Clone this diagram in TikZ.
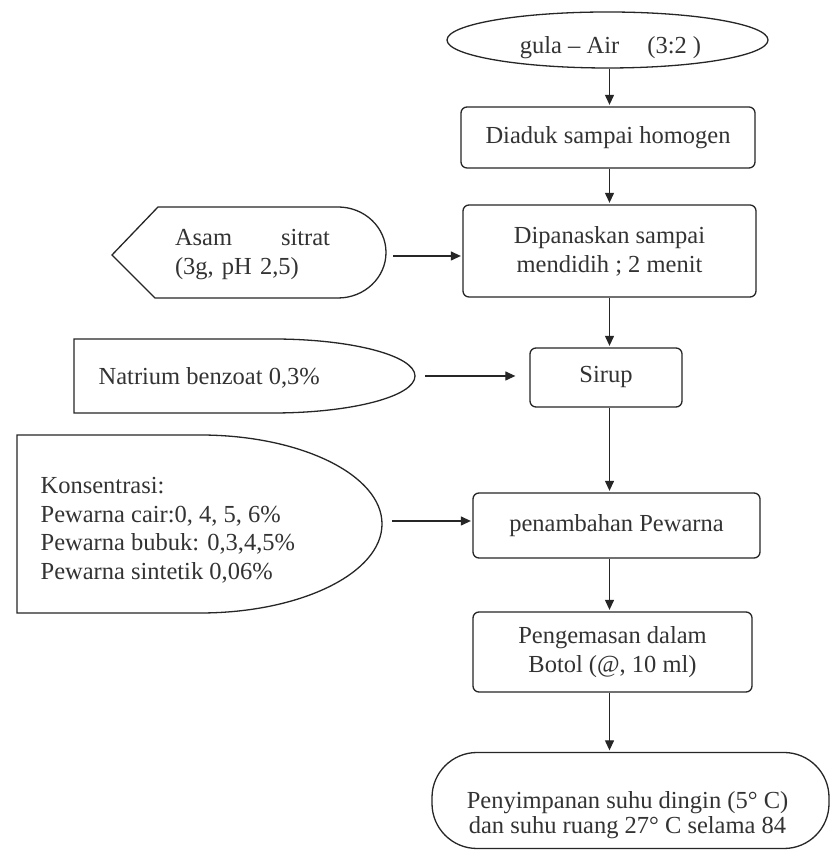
\documentclass[tikz,border=0pt]{standalone}
\usepackage{fontspec}
\setmainfont{Liberation Serif}
\usetikzlibrary{arrows.meta,shapes.geometric}
\definecolor{ink}{HTML}{262626}
\definecolor{txtc}{HTML}{333333}
\begin{document}
\begin{tikzpicture}[x=1pt,y=1pt,
  line width=1.3pt, draw=ink,
  txt/.style={font=\fontsize{24.5}{29}\selectfont, text=txtc, inner sep=0pt},
  proc/.style={draw=ink, rounded corners=6pt, txt},
  ell/.style={draw=ink, ellipse, inner sep=0pt},
  arr/.style={draw=ink, line width=1.2pt, -{Triangle[length=10pt,width=9pt]}, shorten >=1.5pt}
]
\fill[white] (0,0) rectangle (831,850);
\useasboundingbox (0,0) rectangle (831,850);

\coordinate (mainx) at (609.5,0);

% main column
\node[ell, minimum width=321, minimum height=56] (src) at (607.5,810) {};
\node[txt] (srct) at (610.5,802) {gula – Air\hspace{1.15em}(3:2 )};
\node[proc, minimum width=294, minimum height=61] (mix) at (608,712.5) {Diaduk sampai homogen};
\node[proc, minimum width=293, minimum height=92, align=center] (heat) at (609.5,599) {Dipanaskan sampai\\mendidih ; 2 menit};
\node[proc, minimum width=152, minimum height=59] (syr) at (606,472.5) {Sirup};
\node[proc, minimum width=287, minimum height=65] (dye) at (616.5,324.5) {penambahan Pewarna};
\node[proc, minimum width=279, minimum height=80, align=center] (pack) at (612.5,198) {Pengemasan dalam\\Botol (@, 10 ml)};
\node[draw=ink, rounded corners=45pt, minimum width=397, minimum height=96, inner sep=0pt] (store) at (630.5,49.5) {};
\node[txt, align=center, font=\fontsize{24.5}{25}\selectfont] (storet) at (627.5,35) {Penyimpanan suhu dingin (5° C)\\dan suhu ruang 27° C selama 84};

% side inputs
\draw (112,595) -- (158,643) -- (338,643) arc[start angle=90,end angle=-90,x radius=48,y radius=45.5] -- (155,552) -- cycle;
\coordinate (acid) at (386,594);
\node[txt, text width=155pt, align=left] (acidt) at (252.5,595) {Asam \hfill sitrat\\(3g, pH 2,5)};

\draw (74,437) -- (74,511) -- (273,511) arc[start angle=90,end angle=-90,x radius=142,y radius=37] -- cycle;
\coordinate (benz) at (415,474);
\node[txt, anchor=west] (benzt) at (98,472) {Natrium benzoat 0,3\%};

\draw (17,237) -- (17,415) -- (200,415) arc[start angle=90,end angle=-90,x radius=182,y radius=89] -- cycle;
\coordinate (conc) at (382,329);
\node[txt, anchor=west, align=left, font=\fontsize{24.5}{28.5}\selectfont] (conct) at (40,319.5) {Konsentrasi:\\Pewarna cair:0, 4, 5, 6\%\\Pewarna bubuk: 0,3,4,5\%\\Pewarna sintetik 0,06\%};

% connectors
\draw[arr] (src.south -| mainx) -- (mix.north -| mainx);
\draw[arr] (mix.south -| mainx) -- (heat.north -| mainx);
\draw[arr] (heat.south -| mainx) -- (syr.north -| mainx);
\draw[arr] (syr.south -| mainx) -- (dye.north -| mainx);
\draw[arr] (dye.south -| mainx) -- (pack.north -| mainx);
\draw[arr] (pack.south -| mainx) -- (store.north -| mainx);
\draw[arr, shorten <=7pt] (acid) -- (acid -| heat.west);
\draw[arr, shorten <=10pt, shorten >=14pt] (benz) -- (benz -| syr.west);
\draw[arr, shorten <=10pt] (conc) -- (conc -| dye.west);
\end{tikzpicture}
\end{document}
